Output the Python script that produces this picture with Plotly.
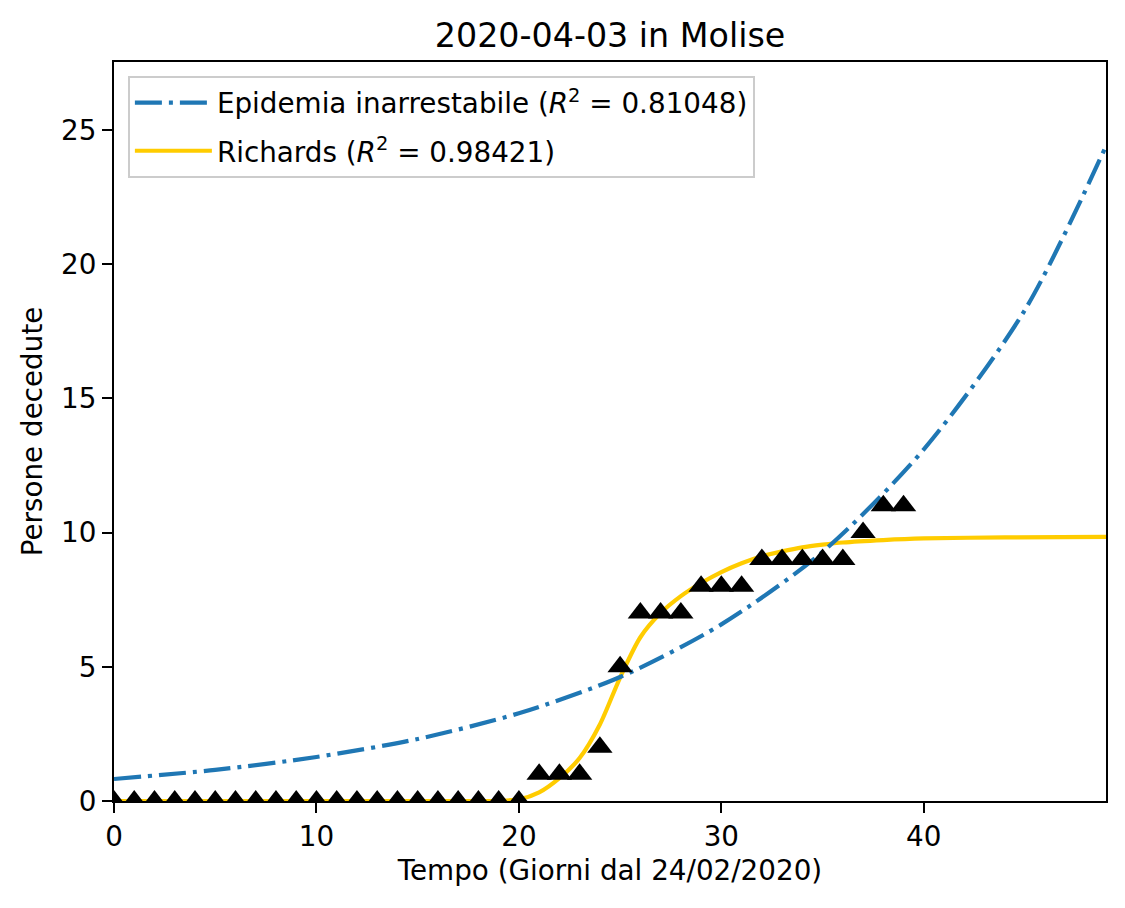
import plotly.graph_objects as go

# Observed data: days since 24/02/2020 and cumulative deaths
days = list(range(0, 40))
deaths = [0] * 21 + [1, 1, 1, 2, 5, 7, 7, 7, 8, 8, 8, 9, 9, 9, 9, 9, 10, 11, 11]

# Exponential fit curve
exp_x = [0, 5, 10, 15, 20, 25, 30, 35, 40, 45, 49]
exp_y = [0.82, 1.16, 1.64, 2.31, 3.27, 4.62, 6.58, 9.28, 13.1, 18.3, 24.4]
exp_label = "Epidemia inarrestabile (<i>R</i><sup>2</sup> = 0.81048)"

# Richards fit curve
ric_x = [0, 10, 18, 19, 20, 21, 22, 23, 24, 25, 26, 27, 28, 29, 30, 31, 32, 33, 34, 35, 36, 38, 40, 44, 49]
ric_y = [0, 0, 0, 0.01, 0.06, 0.32, 0.85, 1.6, 2.85, 4.6, 6.1, 7.0, 7.63, 8.12, 8.53, 8.86, 9.12, 9.3, 9.45, 9.55, 9.63, 9.72, 9.78, 9.82, 9.84]
ric_label = "Richards (<i>R</i><sup>2</sup> = 0.98421)"

title_text = "2020-04-03 in Molise"
x_title = "Tempo (Giorni dal 24/02/2020)"
y_title = "Persone decedute"
x_ticks = [0, 10, 20, 30, 40]
y_ticks = [0, 5, 10, 15, 20, 25]

FONT = "DejaVu Sans"
fig = go.Figure()

fig.add_trace(go.Scatter(
    x=ric_x, y=ric_y, mode="lines", name=ric_label, legendrank=2,
    legendgroup="ric",
    line=dict(color="#ffcc00", width=4.2, shape="spline", smoothing=0.8),
))
fig.add_trace(go.Scatter(
    x=exp_x, y=exp_y, mode="lines", name=exp_label, legendrank=1,
    legendgroup="exp",
    line=dict(color="#1f77b4", width=4.2, shape="spline", smoothing=0.8,
              dash="27px,7px,4px,7px"),
))
fig.add_trace(go.Scatter(
    x=days, y=deaths, mode="markers", showlegend=False,
    marker=dict(symbol="triangle-up", size=22, color="black",
                line=dict(width=0)),
))

axis_common = dict(
    showline=True, linecolor="black", linewidth=2.2, mirror=True,
    ticks="outside", ticklen=10, tickwidth=2.2, tickcolor="black",
    showgrid=False, zeroline=False,
    tickfont=dict(family=FONT, size=27.8, color="black"),
)

# page body has an 8px default margin, so the figure is drawn 8px in
fig.update_layout(
    width=1117, height=900,
    margin=dict(l=106, r=19, t=54, b=107),
    paper_bgcolor="white", plot_bgcolor="white",
    font=dict(family=FONT, size=27.8, color="black"),
    title=dict(text=title_text, x=0.5, xref="paper", xanchor="center",
               y=1 - 27 / 900, yref="container", yanchor="middle",
               font=dict(family=FONT, size=33.3, color="black")),
    xaxis=dict(range=[0, 49], tickvals=x_ticks,
               title=dict(text=x_title, standoff=8,
                          font=dict(family=FONT, size=27.8, color="black")),
               **axis_common),
    yaxis=dict(range=[0, 27.53], tickvals=y_ticks,
               title=dict(text=y_title, standoff=10,
                          font=dict(family=FONT, size=27.8, color="black")),
               **axis_common),
    legend=dict(x=0.014, y=0.981, xanchor="left", yanchor="top",
                bgcolor="rgba(255,255,255,0.8)", bordercolor="#cccccc",
                borderwidth=2, itemwidth=77, tracegroupgap=9,
                font=dict(family=FONT, size=27.8, color="black")),
)

fig.write_html("out.html")
